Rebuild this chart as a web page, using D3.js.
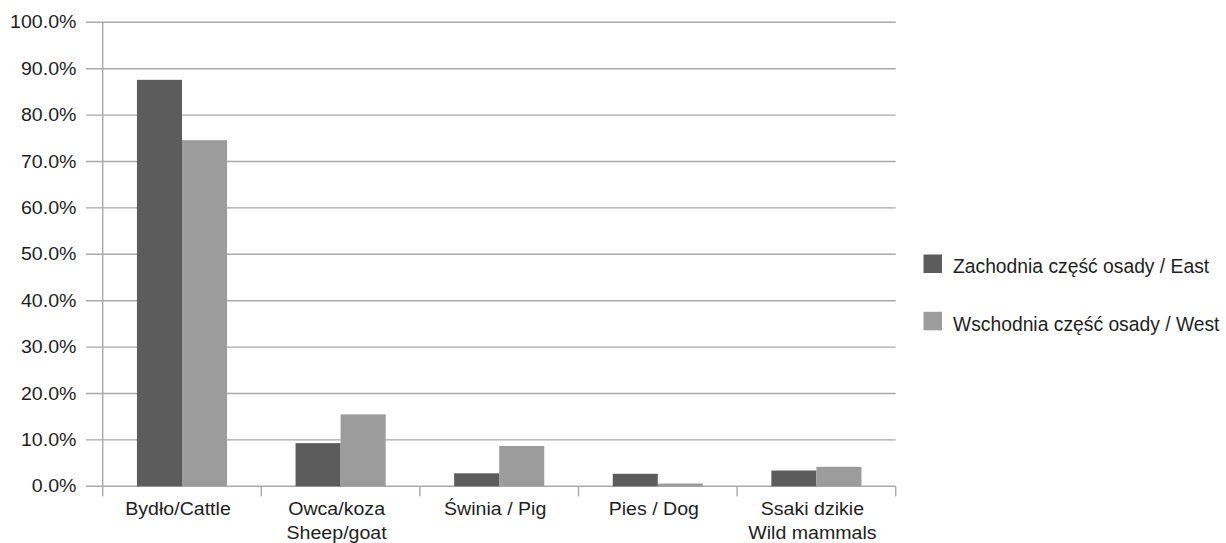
<!DOCTYPE html>
<html><head><meta charset="utf-8">
<script src="https://cdn.jsdelivr.net/npm/d3@7"></script>
<style>
html,body{margin:0;padding:0;background:#fff;}
svg{display:block;}
text{font-family:"Liberation Sans",Arial,Helvetica,sans-serif;fill:#1e1e1e;}
</style></head>
<body>
<svg id="chart" width="1226" height="543"></svg>
<script>
const categories = ["Bydło/Cattle", "Owca/koza\nSheep/goat", "Świnia / Pig", "Pies / Dog", "Ssaki dzikie\nWild mammals"];
const seriesNames = ["Zachodnia część osady / East", "Wschodnia część osady / West"];
const eastValues = [0.876, 0.093, 0.028, 0.027, 0.034];
const westValues = [0.746, 0.155, 0.087, 0.006, 0.042];
const yTickValues = [0, 0.1, 0.2, 0.3, 0.4, 0.5, 0.6, 0.7, 0.8, 0.9, 1.0];
const colors = ["#5c5c5c", "#9c9c9c"];

const svg = d3.select("#chart");
const x0 = 102.7, x1 = 895.7, yTop = 22.3, yBot = 486.3;
const gridLeft = 86;
const sx = 1.12;

const x = d3.scaleBand().domain(categories).range([x0, x1]).paddingInner(0).paddingOuter(0);
const xSub = d3.scaleBand().domain(seriesNames).range([0, x.bandwidth()]).paddingInner(0).paddingOuter(0.76);
const y = d3.scaleLinear().domain([0, 1]).range([yBot, yTop]);
const fmt = d3.format(".1%");

// gridlines
svg.append("g").selectAll("line").data(yTickValues).join("line")
  .attr("x1", gridLeft).attr("x2", x1).attr("y1", d => y(d)).attr("y2", d => y(d))
  .attr("stroke", "#a9a9a9").attr("stroke-width", 1.4);

// y axis line
svg.append("line").attr("x1", x0).attr("x2", x0).attr("y1", y(1)).attr("y2", yBot + 10)
  .attr("stroke", "#a9a9a9").attr("stroke-width", 1.4);

// category tick marks
const bounds = categories.map(c => x(c)).concat([x1]);
svg.append("g").selectAll("line").data(bounds.slice(1)).join("line")
  .attr("x1", d => d).attr("x2", d => d).attr("y1", yBot).attr("y2", yBot + 10)
  .attr("stroke", "#a9a9a9").attr("stroke-width", 1.4);

// y labels
svg.append("g").selectAll("text").data(yTickValues).join("text")
  .attr("transform", d => `translate(76.5,${y(d)}) scale(${sx},1)`)
  .attr("text-anchor", "end").attr("dy", "0.35em")
  .style("font-size", "17.5px")
  .text(d => fmt(d));

// bars
const data = categories.map((c, i) => ({cat: c, vals: [eastValues[i], westValues[i]]}));
const groups = svg.append("g").selectAll("g").data(data).join("g")
  .attr("transform", d => `translate(${x(d.cat)},0)`);
groups.selectAll("rect").data(d => d.vals.map((v, j) => ({name: seriesNames[j], v, j}))).join("rect")
  .attr("x", d => xSub(d.name)).attr("width", xSub.bandwidth())
  .attr("y", d => y(d.v)).attr("height", d => yBot - y(d.v))
  .attr("fill", d => colors[d.j]);

// category labels
const lab = svg.append("g").selectAll("g").data(categories).join("g");
lab.each(function(c) {
  const lines = c.split("\n");
  const cx = x(c) + x.bandwidth() / 2 - 4;
  lines.forEach((ln, k) => {
    d3.select(this).append("text")
      .attr("transform", `translate(${cx},${515 + k * 23.5}) scale(${sx},1)`)
      .attr("text-anchor", "middle")
      .style("font-size", "17.5px")
      .text(ln);
  });
});

// legend
const leg = svg.append("g").selectAll("g").data(seriesNames).join("g")
  .attr("transform", (d, i) => `translate(923.5,${254.5 + i * 57.3})`);
leg.append("rect").attr("width", 18.5).attr("height", 18.5).attr("fill", (d, i) => colors[i]);
leg.append("text").attr("x", 29.5).attr("y", 18.8).style("font-size", "19.3px").text(d => d);
</script>
</body></html>
